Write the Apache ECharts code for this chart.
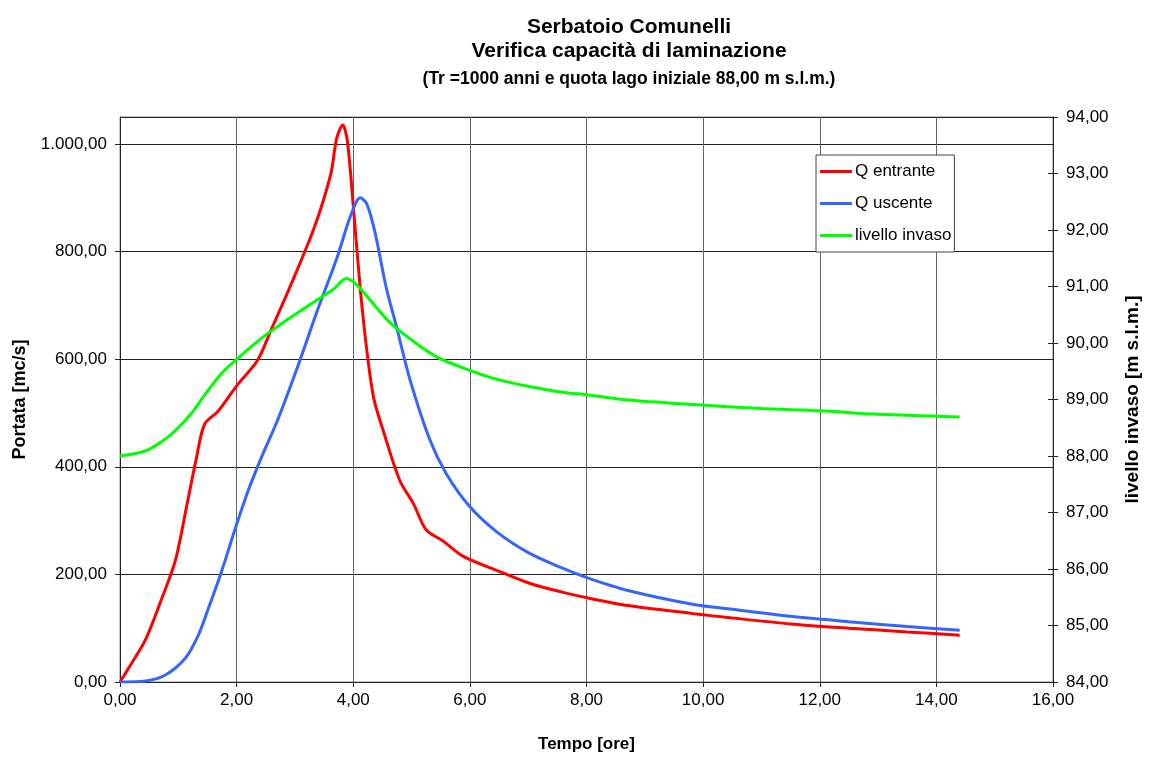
<!DOCTYPE html>
<html><head><meta charset="utf-8">
<script src="https://cdn.jsdelivr.net/npm/echarts@6/dist/echarts.min.js"></script>
<style>html,body{margin:0;padding:0;background:#fff;overflow:hidden}#c{width:1150px;height:758px}</style>
</head><body><div id="c"></div>
<script>
// Q entrante [mc/s]
const tEntrante = [0,0.2,0.44,0.72,0.95,1.14,1.31,1.45,1.68,2.02,2.36,2.59,2.93,3.33,3.61,3.72,3.82,3.90,4.01,4.12,4.23,4.35,4.52,4.80,5.03,5.25,5.54,5.88,6.45,7.01,7.58,8.03,8.71,9.84,10.5,11.5,12.5,13.5,14.4];
const qEntrante = [0,35,79,156,226,325,416,479,503,553,598,654,738,844,942,1012,1035,1005,872,731,619,528,465,374,332,283,262,234,208,184,167,156,142,127,119,108,100,93,87];
// Q uscente [mc/s]
const tUscente = [0,0.44,0.78,1.12,1.34,1.51,1.74,1.97,2.19,2.42,2.70,3.04,3.38,3.72,3.95,4.12,4.23,4.37,4.57,4.74,4.97,5.31,5.59,5.99,6.45,7.01,7.58,8.03,8.71,9.84,10.5,11.5,12.5,13.5,14.4];
const qUscente = [0,2,13,44,86,135,205,283,353,416,486,584,689,788,865,900,889,837,731,661,563,451,388,327,280,240,212,193,170,144,135,122,112,103,96];
// livello invaso [m s.l.m.]
const tLivello = [0,0.44,0.78,1.0,1.23,1.46,1.74,2.02,2.36,2.70,3.04,3.38,3.67,3.88,4.06,4.29,4.63,5.03,5.42,5.88,6.45,7.01,7.58,8.03,8.71,9.84,11,12,13,14.4];
const livello = [88.00,88.09,88.30,88.50,88.76,89.09,89.46,89.73,90.03,90.29,90.53,90.76,90.96,91.14,91.03,90.76,90.36,90.03,89.76,89.56,89.36,89.23,89.13,89.08,88.99,88.91,88.84,88.80,88.74,88.69];

const seriesNames = ['Q entrante','Q uscente','livello invaso'];
const titleLines = ['Serbatoio Comunelli','Verifica capacità di laminazione'];
const subTitle = '(Tr =1000 anni e quota lago iniziale 88,00 m s.l.m.)';

function fmt(v){
  const s = Math.abs(v).toFixed(2).split('.');
  const intp = s[0].replace(/\B(?=(\d{3})+(?!\d))/g,'.');
  return (v<0?'-':'')+intp+','+s[1];
}
const zip = (a,b)=>a.map((x,i)=>[x,b[i]]);
const FONT = '"Liberation Sans", Arial, sans-serif';
const chart = echarts.init(document.getElementById('c'), null, {renderer:'canvas'});
const lbl = {fontFamily:FONT,fontSize:17,color:'#000'};
const nameStyle = {fontFamily:FONT,fontSize:17,fontWeight:'bold',color:'#000'};
chart.setOption({
  animation:false,
  backgroundColor:'#fff',
  title:[{
    text:titleLines.join('\n'), left:624, top:10, textAlign:'center',
    textStyle:{fontFamily:FONT,fontSize:21,fontWeight:'bold',color:'#000',lineHeight:24}
  },{
    text:subTitle, left:624, top:65, textAlign:'center',
    textStyle:{fontFamily:FONT,fontSize:17.5,fontWeight:'bold',color:'#000'}
  }],
  grid:{left:120,right:87,top:117,bottom:68,show:true,borderColor:'#888',borderWidth:1},
  legend:{
    orient:'vertical', left:816, top:155, data:seriesNames,
    icon:'rect', itemWidth:32, itemHeight:3, itemGap:15,
    padding:[8,3,8,4], borderColor:'#444', borderWidth:1, backgroundColor:'#fff',
    textStyle:{fontFamily:FONT,fontSize:17,color:'#000',padding:[0,0,0,-2]}
  },
  xAxis:{
    type:'value', min:0, max:16, interval:2,
    name:'Tempo [ore]', nameLocation:'middle', nameGap:54,
    nameTextStyle:nameStyle,
    axisLine:{lineStyle:{color:'#222',width:1}},
    axisTick:{show:true,length:5,lineStyle:{color:'#222'}},
    axisLabel:Object.assign({formatter:fmt,margin:10},lbl),
    splitLine:{show:true,lineStyle:{color:'#666',width:1}}
  },
  yAxis:[{
    type:'value', min:0, max:1050, interval:200, position:'left',
    name:'Portata [mc/s]', nameLocation:'middle', nameGap:91, nameRotate:90,
    nameTextStyle:Object.assign({}, nameStyle, {fontSize:18}),
    axisLine:{show:true,lineStyle:{color:'#222',width:1}},
    axisTick:{show:true,length:5,lineStyle:{color:'#222'}},
    axisLabel:Object.assign({formatter:fmt,margin:13,showMaxLabel:false},lbl),
    splitLine:{show:true,lineStyle:{color:'#222',width:1}}
  },{
    type:'value', min:84, max:94, interval:1, position:'right',
    name:'livello invaso [m s.l.m.]', nameLocation:'middle', nameGap:70, nameRotate:90,
    nameTextStyle:Object.assign({}, nameStyle, {fontSize:19}),
    axisLine:{show:true,lineStyle:{color:'#222',width:1}},
    axisTick:{show:true,length:5,lineStyle:{color:'#222'}},
    axisLabel:Object.assign({formatter:fmt,margin:13},lbl),
    splitLine:{show:false}
  },{
    type:'value', min:84, max:94, interval:1, position:'right',
    axisLine:{show:false},
    axisTick:{show:true,inside:true,length:5,lineStyle:{color:'#222'}},
    axisLabel:{show:false}, splitLine:{show:false}
  }],
  series:[{
    name:seriesNames[0], type:'line', yAxisIndex:0, data:zip(tEntrante,qEntrante),
    showSymbol:false, smooth:0.3, z:3,
    lineStyle:{color:'#ff0000',width:3}, itemStyle:{color:'#ff0000'}
  },{
    name:seriesNames[1], type:'line', yAxisIndex:0, data:zip(tUscente,qUscente),
    showSymbol:false, smooth:0.3, z:3,
    lineStyle:{color:'#3366ff',width:3}, itemStyle:{color:'#3366ff'}
  },{
    name:seriesNames[2], type:'line', yAxisIndex:1, data:zip(tLivello,livello),
    showSymbol:false, smooth:0.3, z:3,
    lineStyle:{color:'#00ff00',width:3}, itemStyle:{color:'#00ff00'}
  }]
});
</script></body></html>
